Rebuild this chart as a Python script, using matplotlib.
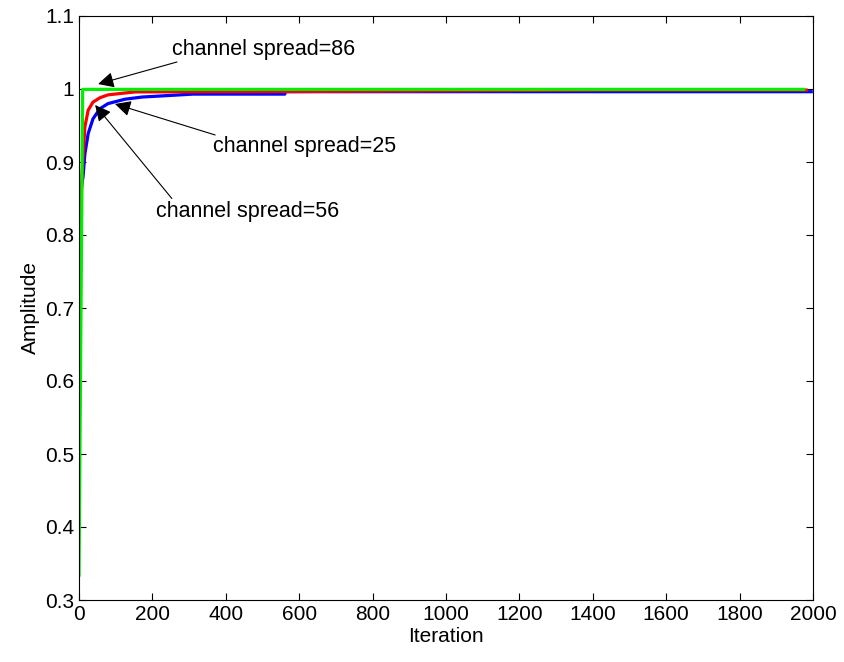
import numpy as np
import matplotlib
matplotlib.use('Agg')
import matplotlib.pyplot as plt

plt.rcParams['font.family'] = ['Liberation Sans', 'DejaVu Sans']
plt.rcParams['font.size'] = 15

# Convergence of the equalizer output amplitude for three channel spreads
it_56 = [0, 2, 5, 11, 16, 25, 38, 57, 79, 125, 172, 207, 311, 561, 562, 1415, 1995]
amp_56 = [0.74, 0.82, 0.86, 0.88, 0.911, 0.939, 0.959, 0.973, 0.980, 0.986,
          0.989, 0.990, 0.993, 0.993, 0.9963, 0.9963, 0.9963]

it_25 = [0, 3, 8, 16, 25, 38, 57, 79, 125, 153, 565, 1415, 1982]
amp_25 = [0.55, 0.80, 0.88, 0.948, 0.971, 0.982, 0.988, 0.992, 0.9945, 0.996,
          0.9965, 0.9985, 0.9985]

it_86 = [0, 10, 1975]
amp_86 = [0.334, 0.9995, 0.9995]

# label text, text position, arrow tip, arrow tail
labels = ['channel spread=86', 'channel spread=25', 'channel spread=56']
text_xy = [(253, 1.0546), (365, 0.921), (210, 0.832)]
tip_xy = [(52, 1.0068), (98, 0.9795), (44, 0.978)]
tail_xy = [(267, 1.037), (371, 0.937), (253, 0.85)]

fig = plt.figure(figsize=(8.44, 6.62), dpi=100)
ax = fig.add_axes([79/844, 1 - 600/662, (813 - 79)/844, (600 - 16)/662])

ax.plot(it_56, amp_56, color='#0000ff', lw=2.3)
ax.plot(it_25, amp_25, color='#ff0000', lw=2.3)
ax.plot(it_86, amp_86, color='#00ee00', lw=2.3)

arrow = dict(arrowstyle='-|>', color='black', lw=0.8, mutation_scale=24,
             shrinkA=0, shrinkB=0)
for lab, txy, tip, tail in zip(labels, text_xy, tip_xy, tail_xy):
    ax.annotate('', xy=tip, xytext=tail, arrowprops=arrow)
    ax.text(txy[0], txy[1], lab, ha='left', va='center', fontsize=15.5)

ax.set_xlim(0, 2000)
ax.set_ylim(0.3, 1.1)
ax.set_xticks(np.arange(0, 2001, 200))
ax.set_yticks(np.arange(0.3, 1.101, 0.1))
ax.set_yticklabels(['0.3', '0.4', '0.5', '0.6', '0.7', '0.8', '0.9', '1', '1.1'])
ax.tick_params(direction='in', top=True, right=True, length=5, width=0.8)
ax.set_xlabel('Iteration', labelpad=2)
ax.set_ylabel('Amplitude')

fig.savefig('out.png', dpi=100)
